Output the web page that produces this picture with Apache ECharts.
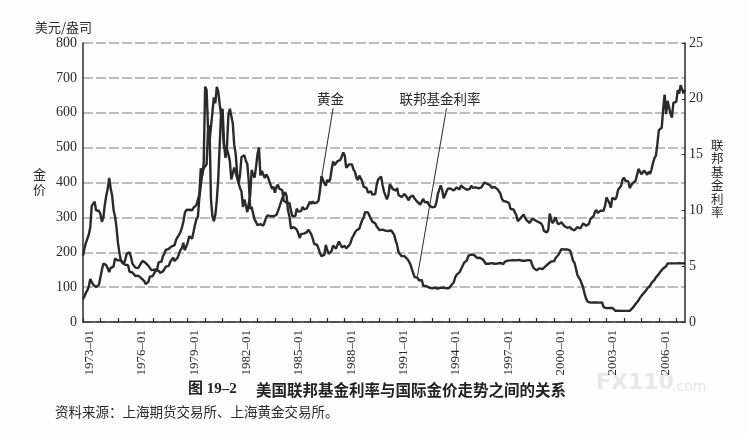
<!DOCTYPE html>
<html><head><meta charset="utf-8">
<script src="https://cdn.jsdelivr.net/npm/echarts@6/dist/echarts.min.js"></script>
<style>html,body{margin:0;padding:0;background:#fdfdfd}#c{width:748px;height:433px}</style>
</head><body><div id="c"></div>
<script>
const START_YEAR = 1973;
// Monthly gold price (USD/oz), 1973-01 .. 2007-07
const gold = [
 65, 74, 84, 91,102,123,120,107,103,100, 95,107,
129,150,168,172,163,154,143,155,152,159,182,184,
176,180,178,170,167,164,165,163,144,143,142,139,
132,131,133,128,126,126,118,109,114,116,130,134,
132,136,148,149,147,141,143,145,150,159,162,161,
173,178,184,175,176,184,189,206,212,227,206,208,
227,246,242,239,258,279,295,301,355,392,393,455,
675,665,554,517,514,601,644,627,674,661,624,595,
557,500,500,496,480,461,409,410,443,438,413,410,
384,374,330,351,334,315,339,364,436,422,414,445,
481,500,420,433,438,413,423,417,412,394,382,388,
371,387,394,382,378,378,348,349,342,340,341,320,
303,299,304,325,317,316,318,330,323,326,326,323,
345,339,346,340,343,343,349,377,418,423,398,391,
408,401,409,438,460,450,450,461,460,465,468,486,
477,442,444,452,451,452,437,431,414,407,420,419,
404,388,390,384,371,368,375,365,362,367,394,409,
410,417,393,374,369,352,363,395,389,381,382,377,
384,364,363,358,357,367,368,356,349,359,360,362,
354,354,344,339,337,341,353,343,345,344,335,335,
329,329,330,342,367,372,392,379,355,364,374,383,
387,382,384,377,381,386,386,380,392,390,384,379,
379,377,382,391,385,388,386,384,383,383,386,387,
400,405,396,393,392,385,384,387,383,381,378,369,
354,347,352,345,344,341,324,324,323,325,306,289,
289,298,296,308,299,292,293,284,289,296,294,292,
287,287,286,283,276,261,256,257,265,311,293,283,
284,300,286,280,275,286,282,275,274,270,266,272,
266,262,263,261,272,270,268,272,283,283,276,276,
282,296,294,303,315,321,313,310,319,317,319,333,
357,359,341,328,356,356,351,360,379,379,390,408,
414,405,407,403,384,392,398,401,405,421,439,442,
424,423,434,429,422,431,425,438,456,470,477,510,
550,555,557,611,652,596,634,633,598,586,628,630,
631,665,655,679,667,656,666
];
// Monthly federal funds rate (%), 1973-01 .. 2007-07
const fedRate = [
5.94,6.58,7.09,7.12,7.84,8.49,10.40,10.50,10.78,10.01,10.03,9.95,
9.65,8.97,9.35,10.51,11.31,11.93,12.92,12.01,11.34,10.06,9.45,8.53,
7.13,6.24,5.54,5.49,5.22,5.55,6.10,6.14,6.24,5.82,5.22,5.20,
4.87,4.77,4.84,4.82,5.29,5.48,5.31,5.29,5.25,5.03,4.95,4.65,
4.61,4.68,4.69,4.73,5.35,5.39,5.42,5.90,6.14,6.47,6.51,6.56,
6.70,6.78,6.79,6.89,7.36,7.60,7.81,8.04,8.45,8.96,9.76,10.03,
10.07,10.06,10.09,10.01,10.24,10.29,10.47,10.94,11.43,13.77,13.18,13.78,
13.82,14.13,17.19,17.61,10.98,9.47,9.03,9.61,10.87,12.81,15.85,18.90,
19.08,15.93,14.70,15.72,18.52,19.10,19.04,17.82,15.87,15.08,13.31,12.37,
13.22,14.78,14.68,14.94,14.45,14.15,12.59,10.12,10.31,9.71,9.20,8.95,
8.68,8.51,8.77,8.80,8.63,8.98,9.37,9.56,9.45,9.48,9.34,9.47,
9.56,9.59,9.91,10.29,10.32,11.06,11.23,11.64,11.30,9.99,9.43,8.38,
8.35,8.50,8.58,8.27,7.97,7.53,7.88,7.90,7.92,7.99,8.05,8.27,
8.14,7.86,7.48,6.99,6.85,6.92,6.56,6.17,5.89,5.85,6.04,6.91,
6.43,6.10,6.13,6.37,6.85,6.73,6.58,6.73,7.22,7.29,6.69,6.77,
6.83,6.58,6.58,6.87,7.09,7.51,7.75,8.01,8.19,8.30,8.35,8.76,
9.12,9.36,9.85,9.84,9.81,9.53,9.24,8.99,9.02,8.84,8.55,8.45,
8.23,8.24,8.28,8.26,8.18,8.29,8.15,8.13,8.20,8.11,7.81,7.31,
6.91,6.25,6.12,5.91,5.78,5.90,5.82,5.66,5.45,5.21,4.81,4.43,
4.03,4.06,3.98,3.73,3.82,3.76,3.25,3.30,3.22,3.10,3.09,2.92,
3.02,3.03,3.07,2.96,3.00,3.04,3.06,3.03,3.09,2.99,3.02,2.96,
3.05,3.25,3.34,3.56,4.01,4.25,4.26,4.47,4.73,4.76,5.29,5.45,
5.53,5.92,5.98,6.05,6.01,6.00,5.85,5.74,5.80,5.76,5.80,5.60,
5.56,5.22,5.31,5.22,5.24,5.27,5.40,5.22,5.30,5.24,5.31,5.29,
5.25,5.19,5.39,5.51,5.50,5.56,5.52,5.54,5.54,5.50,5.52,5.50,
5.56,5.51,5.49,5.45,5.49,5.56,5.54,5.55,5.51,5.07,4.83,4.68,
4.63,4.76,4.81,4.74,4.74,4.76,4.99,5.07,5.22,5.20,5.42,5.30,
5.45,5.73,5.85,6.02,6.27,6.53,6.54,6.50,6.52,6.51,6.51,6.40,
5.98,5.49,5.31,4.80,4.21,3.97,3.77,3.65,3.07,2.49,2.09,1.82,
1.73,1.74,1.73,1.75,1.75,1.75,1.73,1.74,1.75,1.75,1.34,1.24,
1.24,1.26,1.25,1.26,1.26,1.22,1.01,1.03,1.01,1.01,1.00,0.98,
1.00,1.01,1.00,1.00,1.00,1.03,1.26,1.43,1.61,1.76,1.93,2.16,
2.28,2.50,2.63,2.79,3.00,3.04,3.26,3.50,3.62,3.78,4.00,4.16,
4.29,4.49,4.59,4.79,4.94,4.99,5.24,5.25,5.25,5.25,5.25,5.24,
5.25,5.26,5.26,5.25,5.25,5.25,5.26
];
const categories = [];
for (let i = 0; i < gold.length; i++) {
  const y = START_YEAR + Math.floor(i / 12), m = i % 12 + 1;
  categories.push(y + '-' + String(m).padStart(2, '0'));
}
const xTickLabels = ['1973-01','1976-01','1979-01','1982-01','1985-01','1988-01','1991-01','1994-01','1997-01','2000-01','2003-01','2006-01'];
const goldLabel = '黄金';
const fedLabel = '联邦基金利率';

const SERIF = '"Liberation Serif", "Noto Sans CJK SC", serif';
const CJK = '"Noto Sans CJK SC", sans-serif';
const INK = '#2a2a2a';

const chart = echarts.init(document.getElementById('c'), null, {renderer: 'canvas'});
chart.setOption({
  backgroundColor: '#fdfdfd',
  animation: false,
  grid: {left: 83, right: 63, top: 43, bottom: 111},
  xAxis: {
    type: 'category', data: categories, boundaryGap: false,
    axisLine: {lineStyle: {color: INK, width: 1.5}},
    axisTick: {inside: true, length: 4, interval: (i) => i % 12 === 0, lineStyle: {color: INK, width: 1.2}},
    axisLabel: {
      interval: (i, v) => xTickLabels.indexOf(v) >= 0,
      rotate: 90, verticalAlign: 'top', margin: 8,
      formatter: (v) => v.replace('-', '–'),
      fontFamily: SERIF, fontSize: 13, color: INK
    },
    splitLine: {show: false}
  },
  yAxis: [{
    type: 'value', min: 0, max: 800, interval: 100, position: 'left',
    axisLine: {show: true, lineStyle: {color: INK, width: 1.5}},
    axisTick: {show: false},
    axisLabel: {fontFamily: SERIF, fontSize: 14, color: INK, margin: 6},
    splitLine: {show: true, lineStyle: {type: [10, 3], color: '#a8a8a8', width: 1.5}}
  }, {
    type: 'value', min: 0, max: 25, interval: 5, position: 'right',
    axisLine: {show: true, lineStyle: {color: INK, width: 1.5}},
    axisTick: {show: true, inside: true, length: 3, lineStyle: {color: INK}},
    axisLabel: {fontFamily: SERIF, fontSize: 14, color: INK, margin: 4},
    splitLine: {show: false}
  }],
  series: [{
    name: goldLabel, type: 'line', yAxisIndex: 0, data: gold,
    showSymbol: false, symbol: 'none', lineStyle: {color: INK, width: 2.4},
    markLine: {
      silent: true, symbol: ['none', 'none'],
      lineStyle: {color: INK, width: 1, type: 'solid'},
      label: {show: true, position: 'start', formatter: goldLabel, fontFamily: CJK, fontSize: 13.5, color: INK, distance: 3, offset: [-3, 0]},
      data: [[{coord: ['1987-05', 613]}, {coord: ['1986-09', 412]}]]
    }
  }, {
    name: fedLabel, type: 'line', yAxisIndex: 1, data: fedRate,
    showSymbol: false, symbol: 'none', lineStyle: {color: INK, width: 2.4},
    markLine: {
      silent: true, symbol: ['none', 'none'],
      lineStyle: {color: INK, width: 1, type: 'solid'},
      label: {show: true, position: 'start', formatter: fedLabel, fontFamily: CJK, fontSize: 13.5, color: INK, distance: 3, offset: [-7, 0]},
      data: [[{coord: ['1993-11', 19.15]}, {coord: ['1992-03', 4.1]}]]
    }
  }],
  graphic: [
    {type: 'text', left: 35, top: 21, style: {text: '美元/盎司', font: '13px ' + CJK, fill: INK}},
    {type: 'text', left: 33, top: 167, style: {text: '金\n价', font: '13px ' + CJK, fill: INK, lineHeight: 15}},
    {type: 'text', left: 711, top: 138, style: {text: '联\n邦\n基\n金\n利\n率', font: '12.5px ' + CJK, fill: INK, lineHeight: 13.5}},
    {type: 'text', left: 188, top: 382, style: {text: '图 19–2', font: 'bold 15px ' + SERIF, fill: '#222'}},
    {type: 'text', left: 256, top: 382, style: {text: '美国联邦基金利率与国际金价走势之间的关系', font: 'bold 15.5px ' + CJK, fill: '#222'}},
    {type: 'text', left: 55, top: 405, style: {text: '资料来源：上海期货交易所、上海黄金交易所。', font: '13.5px ' + CJK, fill: INK}},
    {type: 'text', left: 596, top: 372, style: {text: 'FX110', font: 'bold 22px "DejaVu Sans", sans-serif', fill: '#e8e8e8'}},
    {type: 'text', left: 672, top: 380, style: {text: '.com', font: '14px "DejaVu Sans", sans-serif', fill: '#e8e8e8'}}
  ]
});
</script></body></html>
